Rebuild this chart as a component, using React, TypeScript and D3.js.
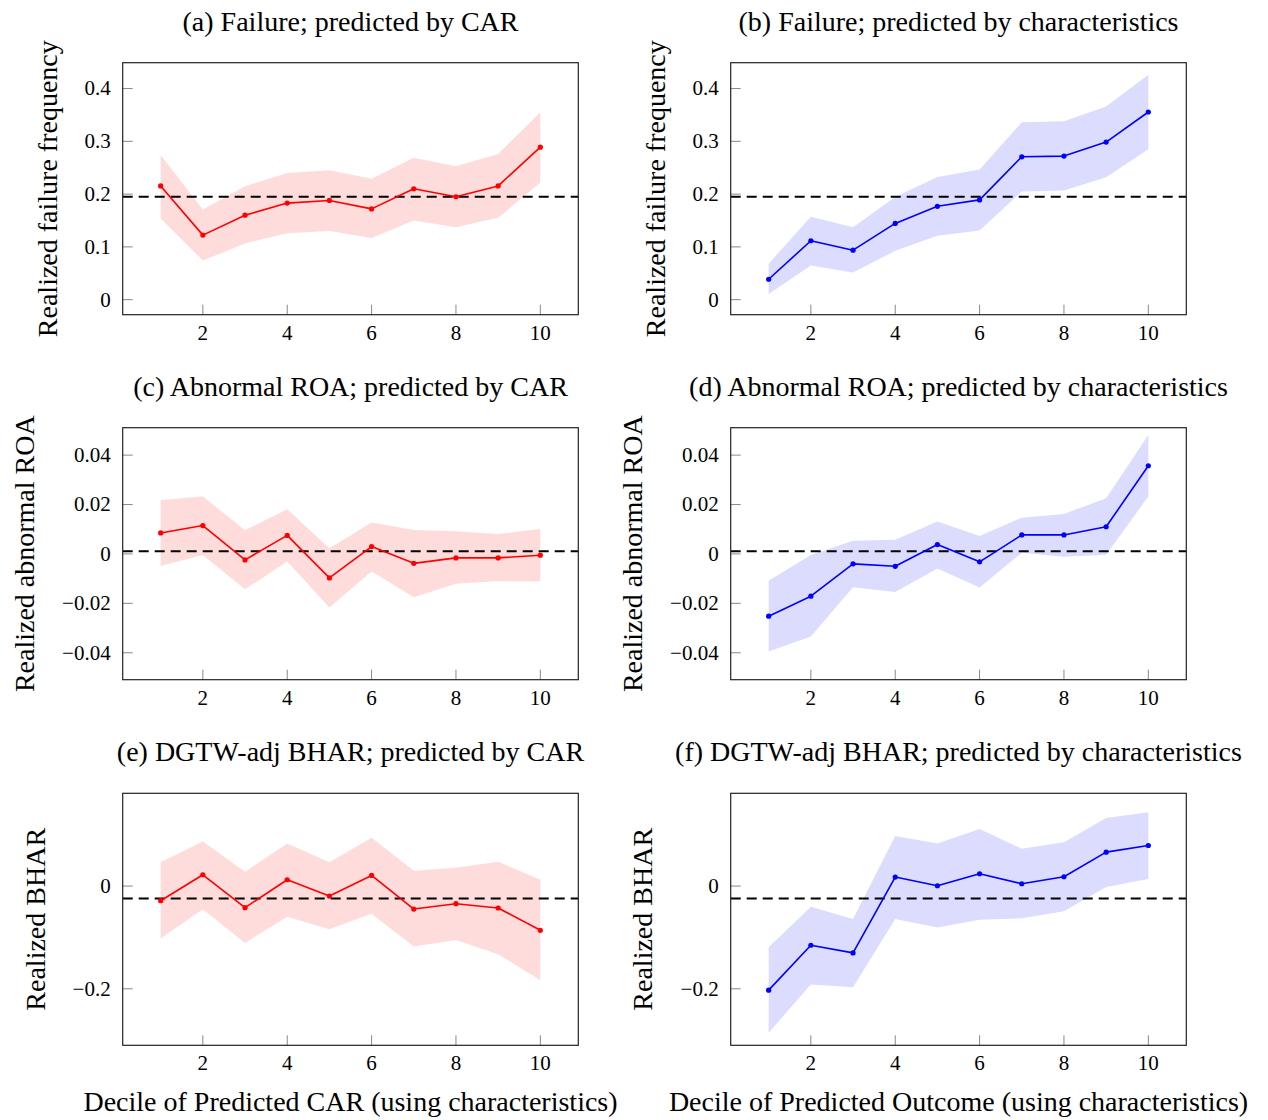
import * as d3 from "d3"

// deciles 1..10
const deciles = [1, 2, 3, 4, 5, 6, 7, 8, 9, 10]
const xTicks = [2, 4, 6, 8, 10]

// (a) failure, predicted by CAR
const failCarMean = [0.2155, 0.1223, 0.16, 0.183, 0.188, 0.172, 0.21, 0.195, 0.2155, 0.289]
const failCarHi = [0.274, 0.171, 0.215, 0.24, 0.245, 0.229, 0.269, 0.253, 0.276, 0.355]
const failCarLo = [0.154, 0.074, 0.1065, 0.126, 0.13, 0.117, 0.15, 0.137, 0.155, 0.222]
// (b) failure, predicted by characteristics
const failCharMean = [0.0387, 0.1116, 0.0938, 0.1445, 0.1769, 0.189, 0.2707, 0.272, 0.2986, 0.3556]
const failCharHi = [0.068, 0.157, 0.137, 0.1946, 0.2326, 0.2466, 0.336, 0.338, 0.366, 0.426]
const failCharLo = [0.0108, 0.0647, 0.0513, 0.0926, 0.121, 0.131, 0.205, 0.207, 0.232, 0.285]
const failBase = 0.195

// (c) abnormal ROA, predicted by CAR
const roaCarMean = [0.0085, 0.0115, -0.0024, 0.0075, -0.0097, 0.003, -0.0038, -0.0016, -0.0016, -0.0005]
const roaCarHi = [0.0218, 0.0233, 0.0096, 0.0181, 0.0023, 0.0127, 0.0097, 0.0092, 0.0081, 0.0101]
const roaCarLo = [-0.0049, -0.0004, -0.0143, -0.0031, -0.0217, -0.0071, -0.0175, -0.0121, -0.011, -0.0112]
// (d) abnormal ROA, predicted by characteristics
const roaCharMean = [-0.0252, -0.0171, -0.004, -0.005, 0.0038, -0.0032, 0.0077, 0.0077, 0.011, 0.0357]
const roaCharHi = [-0.0108, -0.0004, 0.0053, 0.0057, 0.0131, 0.0073, 0.0147, 0.0162, 0.0225, 0.0481]
const roaCharLo = [-0.0395, -0.0334, -0.0135, -0.0154, -0.0059, -0.0136, 0.0005, -0.0011, -0.0003, 0.0233]
const roaBase = 0.0011

// (e) BHAR, predicted by CAR
const bharCarMean = [-0.0285, 0.022, -0.042, 0.0123, -0.0194, 0.0207, -0.0447, -0.0343, -0.0427, -0.0861]
const bharCarHi = [0.0466, 0.0867, 0.0278, 0.0828, 0.0466, 0.0939, 0.0298, 0.0356, 0.0472, 0.0123]
const bharCarLo = [-0.1016, -0.0453, -0.1107, -0.0595, -0.0841, -0.0537, -0.1178, -0.1049, -0.1327, -0.1832]
// (f) BHAR, predicted by characteristics
const bharCharMean = [-0.2026, -0.1152, -0.1301, 0.0175, 0.0006, 0.024, 0.0045, 0.0181, 0.066, 0.079]
const bharCharHi = [-0.119, -0.0401, -0.0641, 0.0977, 0.0828, 0.1113, 0.0725, 0.0854, 0.1327, 0.1437]
const bharCharLo = [-0.2854, -0.1916, -0.1968, -0.0641, -0.0809, -0.0654, -0.0628, -0.0492, -0.0019, 0.0136]
const bharBase = -0.024

const failTicks = [0, 0.1, 0.2, 0.3, 0.4]
const roaTicks = [-0.04, -0.02, 0, 0.02, 0.04]
const bharTicks = [-0.2, 0]

const FONT = "'Liberation Serif', 'DejaVu Serif', serif"
const W = 455.6
const H = 252
const BIG = 28

const fmt = (v: number) => (v < 0 ? "\u2212" + String(Math.abs(v)) : String(v))

const panels = [
  { title: "(a) Failure; predicted by CAR", ylabel: "Realized failure frequency", mean: failCarMean, lo: failCarLo, hi: failCarHi, base: failBase, ticks: failTicks, dom: [-0.0285, 0.449], color: "red", fill: "#ffdcdc", left: 122.7, top: 62.7, labOff: 75, xlabel: "" },
  { title: "(b) Failure; predicted by characteristics", ylabel: "Realized failure frequency", mean: failCharMean, lo: failCharLo, hi: failCharHi, base: failBase, ticks: failTicks, dom: [-0.0285, 0.449], color: "blue", fill: "#dcdcff", left: 730.7, top: 62.7, labOff: 75, xlabel: "" },
  { title: "(c) Abnormal ROA; predicted by CAR", ylabel: "Realized abnormal ROA", mean: roaCarMean, lo: roaCarLo, hi: roaCarHi, base: roaBase, ticks: roaTicks, dom: [-0.0509, 0.0511], color: "red", fill: "#ffdcdc", left: 122.7, top: 427.7, labOff: 98, xlabel: "" },
  { title: "(d) Abnormal ROA; predicted by characteristics", ylabel: "Realized abnormal ROA", mean: roaCharMean, lo: roaCharLo, hi: roaCharHi, base: roaBase, ticks: roaTicks, dom: [-0.0509, 0.0511], color: "blue", fill: "#dcdcff", left: 730.7, top: 427.7, labOff: 98, xlabel: "" },
  { title: "(e) DGTW-adj BHAR; predicted by CAR", ylabel: "Realized BHAR", mean: bharCarMean, lo: bharCarLo, hi: bharCarHi, base: bharBase, ticks: bharTicks, dom: [-0.31, 0.1806], color: "red", fill: "#ffdcdc", left: 122.7, top: 793.3, labOff: 87, xlabel: "Decile of Predicted CAR (using characteristics)" },
  { title: "(f) DGTW-adj BHAR; predicted by characteristics", ylabel: "Realized BHAR", mean: bharCharMean, lo: bharCharLo, hi: bharCharHi, base: bharBase, ticks: bharTicks, dom: [-0.31, 0.1806], color: "blue", fill: "#dcdcff", left: 730.7, top: 793.3, labOff: 88, xlabel: "Decile of Predicted Outcome (using characteristics)" },
]

function Panel({ p }: { p: (typeof panels)[number] }) {
  const x = d3.scaleLinear().domain([0.1, 10.9]).range([0, W])
  const y = d3.scaleLinear().domain(p.dom).range([H, 0])

  const band = d3
    .area<number>()
    .x((d) => x(d))
    .y0((d, i) => y(p.lo[i]))
    .y1((d, i) => y(p.hi[i]))
  const line = d3
    .line<number>()
    .x((d) => x(d))
    .y((d, i) => y(p.mean[i]))

  return (
    <g transform={`translate(${p.left},${p.top})`} fontFamily={FONT}>
      <text x={W / 2} y={-32} textAnchor="middle" fontSize={BIG} fill="#000">
        {p.title}
      </text>
      <path d={band(deciles) || ""} fill={p.fill} stroke="none" />
      <line x1={0} x2={W} y1={y(p.base)} y2={y(p.base)} stroke="#000" strokeWidth={2} strokeDasharray="10,6" />
      <path d={line(deciles) || ""} fill="none" stroke={p.color} strokeWidth={1.6} strokeLinejoin="round" />
      {deciles.map((d, i) => (
        <circle key={d} cx={x(d)} cy={y(p.mean[i])} r={2.6} fill={p.color} />
      ))}
      {p.ticks.map((t) => (
        <g key={"y" + t}>
          <line x1={0} x2={10} y1={y(t)} y2={y(t)} stroke="#888" strokeWidth={1} />
          <text x={-12} y={y(t)} dy="0.33em" textAnchor="end" fontSize={21} fill="#000">
            {fmt(t)}
          </text>
        </g>
      ))}
      {xTicks.map((t) => (
        <g key={"x" + t}>
          <line x1={x(t)} x2={x(t)} y1={H} y2={H - 10} stroke="#888" strokeWidth={1} />
          <text x={x(t)} y={H + 25} textAnchor="middle" fontSize={21} fill="#000">
            {t}
          </text>
        </g>
      ))}
      <rect x={0} y={0} width={W} height={H} fill="none" stroke="#222" strokeWidth={1.2} />
      <text
        transform={`translate(${-p.labOff},${H / 2}) rotate(-90)`}
        textAnchor="middle"
        dy="0.33em"
        fontSize={BIG}
        fill="#000"
      >
        {p.ylabel}
      </text>
      {p.xlabel && (
        <text x={W / 2} y={H + 66} textAnchor="middle" fontSize={BIG} fill="#000">
          {p.xlabel}
        </text>
      )}
    </g>
  )
}

export default function App() {
  return (
    <svg width={1268} height={1120} style={{ position: "absolute", left: 0, top: 0, background: "#fff" }}>
      {panels.map((p) => (
        <Panel key={p.title} p={p} />
      ))}
    </svg>
  )
}
